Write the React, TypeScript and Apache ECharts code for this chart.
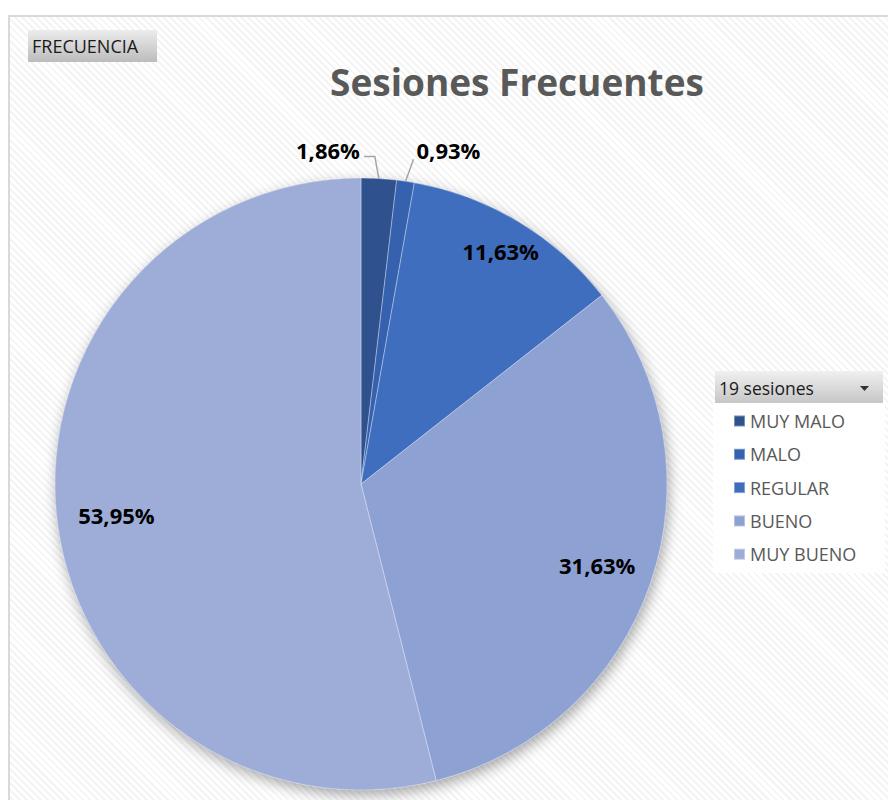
import React, { useEffect, useRef } from "react";
import * as echarts from "echarts";

const categories = ["MUY MALO", "MALO", "REGULAR", "BUENO", "MUY BUENO"];
const percentages = [1.86, 0.93, 11.63, 31.63, 53.95];
const sliceColors = ["#2F528F", "#3561AE", "#3F6EBF", "#8EA1D3", "#9EADD8"];
const titleText = "Sesiones Frecuentes";
const filterLabel = "FRECUENCIA";
const legendHeader = "19 sesiones";

const CX = 361;
const CY = 484;
const R = 306;
const FONT = "'Open Sans', 'Noto Sans', sans-serif";

const fmt = (v: number) => v.toFixed(2).replace(".", ",") + "%";

export default function App() {
  const ref = useRef<HTMLDivElement>(null);
  useEffect(() => {
    if (!ref.current) return;
    const chart = echarts.init(ref.current, undefined, { renderer: "svg" });
    const total = percentages.reduce((a, b) => a + b, 0);
    const midAngles: number[] = [];
    let acc = 0;
    percentages.forEach((v) => {
      midAngles.push(((acc + v / 2) / total) * Math.PI * 2);
      acc += v;
    });
    const insideFactor = [1, 1, 1.74, 1.6, 1.58];
    const data = categories.map((name, i) => {
      const small = percentages[i] < 5;
      return {
        name,
        value: percentages[i],
        itemStyle: { color: sliceColors[i] },
        label: { position: small ? "outside" : "inside" },
        labelLine: { show: small },
      };
    });
    chart.setOption({
      animation: false,
      title: {
        text: titleText,
        left: 512,
        top: 58,
        textAlign: "center",
        textStyle: { fontFamily: FONT, fontSize: 37, fontWeight: "bold", color: "#595959" },
      },
      legend: {
        data: categories,
        orient: "vertical",
        left: 728,
        top: 406,
        itemWidth: 11,
        itemHeight: 11,
        itemGap: 13.3,
        icon: "rect",
        selectedMode: false,
        textStyle: { fontFamily: FONT, fontSize: 18, color: "#595959", lineHeight: 20 },
      },
      graphic: [
        {
          type: "rect",
          shape: { x: 28, y: 30, width: 129, height: 32 },
          style: {
            fill: new echarts.graphic.LinearGradient(0, 0, 0, 1, [
              { offset: 0, color: "#ececec" },
              { offset: 1, color: "#bcbcbc" },
            ]),
          },
          z: 1,
        },
        {
          type: "text",
          x: 32,
          y: 46,
          style: { text: filterLabel, fontFamily: FONT, fontSize: 18, fill: "#1a1a1a", verticalAlign: "middle" },
          z: 2,
        },
        {
          type: "rect",
          shape: { x: 713, y: 403, width: 172, height: 170 },
          style: { fill: "rgba(255,255,255,0.85)" },
          z: 0,
        },
        {
          type: "rect",
          shape: { x: 715, y: 371, width: 168, height: 32 },
          style: {
            fill: new echarts.graphic.LinearGradient(0, 0, 0, 1, [
              { offset: 0, color: "#f0f0f0" },
              { offset: 1, color: "#c6c6c6" },
            ]),
          },
          z: 1,
        },
        {
          type: "text",
          x: 719,
          y: 388,
          style: { text: legendHeader, fontFamily: FONT, fontSize: 17.5, fill: "#1a1a1a", verticalAlign: "middle" },
          z: 2,
        },
        {
          type: "polygon",
          shape: { points: [[860, 386], [869, 386], [864.5, 391]] },
          style: { fill: "#333" },
          z: 2,
        },
      ],
      series: [
        {
          type: "pie",
          center: [CX, CY],
          radius: R,
          silent: true,
          z: 1,
          data: [{ value: 1, name: "shadow" }],
          label: { show: false },
          labelLine: { show: false },
          itemStyle: {
            color: "#9EADD8",
            shadowBlur: 14,
            shadowOffsetX: 2,
            shadowOffsetY: 5,
            shadowColor: "rgba(0,0,0,0.35)",
          },
        },
        {
          type: "pie",
          center: [CX, CY],
          radius: R,
          startAngle: 90,
          clockwise: true,
          z: 2,
          data,
          itemStyle: { borderColor: "rgba(255,255,255,0.35)", borderWidth: 1 },
          emphasis: { disabled: true },
          label: {
            show: true,
            formatter: (p: any) => fmt(p.value),
            fontFamily: FONT,
            fontSize: 22,
            fontWeight: "bold",
            color: "#000",
          },
          labelLine: { lineStyle: { color: "#a6a6a6", width: 1.5 } },
          labelLayout: (p: any) => {
            const i = p.dataIndex;
            const a = midAngles[i];
            const ex = CX + R * Math.sin(a);
            const ey = CY - R * Math.cos(a);
            if (i === 0) {
              return {
                x: ex - 19,
                y: ey - 29,
                align: "right",
                verticalAlign: "middle",
                labelLinePoints: [[ex, ey], [ex - 4, ey - 22], [ex - 15, ey - 22]],
              };
            }
            if (i === 1) {
              return {
                x: ex + 11,
                y: ey - 31,
                align: "left",
                verticalAlign: "middle",
                labelLinePoints: [[ex, ey], [ex + 8, ey - 22], [ex + 8, ey - 22]],
              };
            }
            const k = insideFactor[i];
            const lx = p.labelRect.x + p.labelRect.width / 2;
            const ly = p.labelRect.y + p.labelRect.height / 2;
            return { dx: (lx - CX) * (k - 1), dy: (ly - CY) * (k - 1) };
          },
        },
      ],
    });
    return () => chart.dispose();
  }, []);

  return (
    <div style={{ position: "fixed", left: 0, top: 0, width: 888, height: 800, background: "#fff", overflow: "hidden" }}>
      <div
        style={{
          position: "absolute",
          left: 8,
          top: 15,
          width: 900,
          height: 800,
          borderLeft: "2px solid #d9d9d9",
          borderTop: "2px solid #d9d9d9",
          background: "repeating-linear-gradient(45deg, #ffffff 0px, #ffffff 3px, #f4f4f4 3px, #f4f4f4 5px)",
        }}
      />
      <div ref={ref} style={{ position: "absolute", left: 0, top: 0, width: 888, height: 800 }} />
    </div>
  );
}
